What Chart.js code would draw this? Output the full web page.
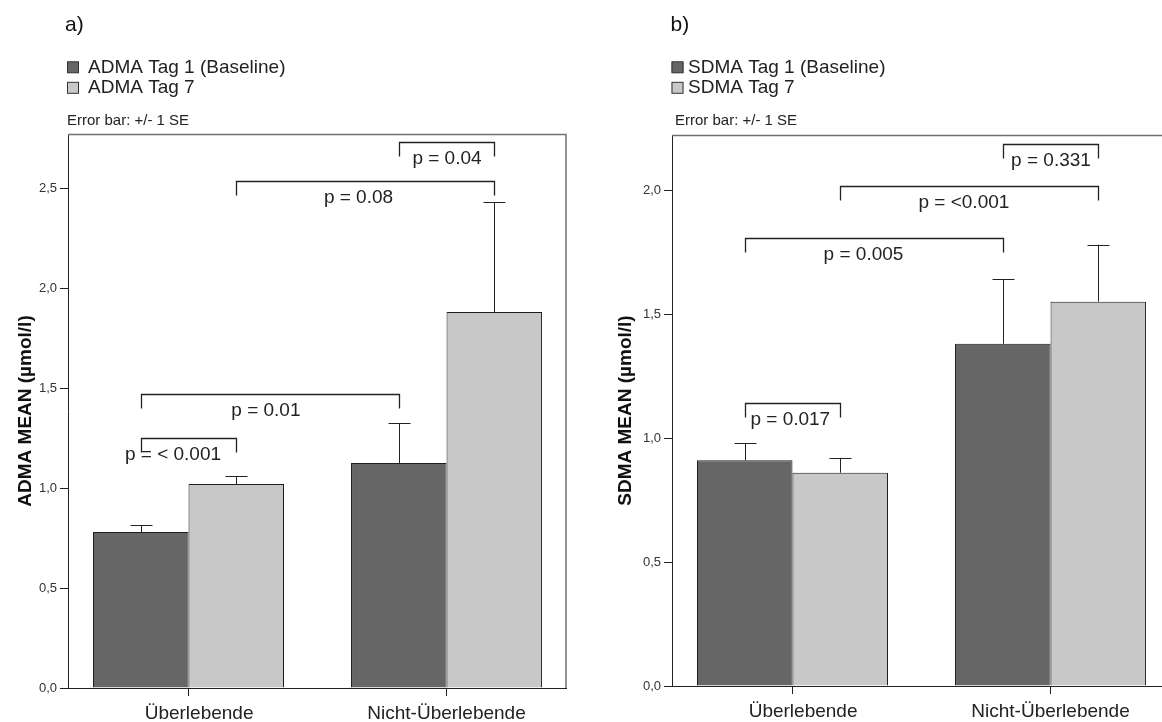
<!DOCTYPE html>
<html><head><meta charset="utf-8">
<script src="https://cdn.jsdelivr.net/npm/chart.js@4/dist/chart.umd.min.js"></script>
<style>
html,body{margin:0;padding:0;background:#fff;overflow:hidden;width:1162px;height:722px;}
.wrap{position:absolute;top:0;width:580px;height:722px;}
#wa{left:0}
#wb{left:604px}
</style></head><body>
<div class="wrap" id="wa"><canvas id="ca" width="580" height="722"></canvas></div>
<div class="wrap" id="wb"><canvas id="cb" width="580" height="722"></canvas></div>
<script>
// ---- data ----
const categories = ['Überlebende', 'Nicht-Überlebende'];

const admaTag1 = [0.78, 1.125];
const admaTag1SE = [0.035, 0.20];
const admaTag7 = [1.02, 1.88];
const admaTag7SE = [0.04, 0.55];

const sdmaTag1 = [0.91, 1.38];
const sdmaTag1SE = [0.07, 0.26];
const sdmaTag7 = [0.86, 1.55];
const sdmaTag7SE = [0.06, 0.23];

const admaTicks = [0, 0.5, 1.0, 1.5, 2.0, 2.5];
const sdmaTicks = [0, 0.5, 1.0, 1.5, 2.0];

// p-value brackets: label, level (value units), from bar [dataset, category], to bar
const admaPLabels = ['p = 0.04', 'p = 0.08', 'p = 0.01', 'p = < 0.001'];
const admaPLevels = [2.73, 2.535, 1.47, 1.25];
const admaPFrom = [[0, 1], [1, 0], [0, 0], [0, 0]];
const admaPTo   = [[1, 1], [1, 1], [0, 1], [1, 0]];

const sdmaPLabels = ['p = 0.331', 'p = <0.001', 'p = 0.005', 'p = 0.017'];
const sdmaPLevels = [2.184, 2.017, 1.808, 1.142];
const sdmaPFrom = [[0, 1], [1, 0], [0, 0], [0, 0]];
const sdmaPTo   = [[1, 1], [1, 1], [0, 1], [1, 0]];

// ---- drawing ----
const FONT = '"Liberation Sans", Arial, Helvetica, sans-serif';
Chart.defaults.font.family = FONT;
const DARK = '#666666', LIGHT = '#c8c8c8';

const extrasPlugin = {
  id: 'extras',
  afterDatasetsDraw(chart, args, o) {
    const ctx = chart.ctx;
    const ys = chart.scales.y;
    const ca = chart.chartArea;
    ctx.save();
    // frame top/right
    ctx.strokeStyle = '#707070';
    ctx.lineWidth = 1.5;
    ctx.beginPath();
    ctx.moveTo(ca.left, ca.top + 0.5);
    ctx.lineTo(ca.right, ca.top + 0.5);
    ctx.lineTo(ca.right, ca.bottom);
    ctx.stroke();
    // error bars
    ctx.strokeStyle = '#222';
    ctx.lineWidth = 1;
    chart.data.datasets.forEach((ds, d) => {
      const meta = chart.getDatasetMeta(d);
      meta.data.forEach((el, i) => {
        const v = ds.data[i].y, se = ds.se[i];
        const yT = ys.getPixelForValue(v + se);
        const x = Math.round(el.x) + 0.5;
        ctx.beginPath();
        ctx.moveTo(x, el.y);
        ctx.lineTo(x, yT);
        ctx.moveTo(x - 11, Math.round(yT) + 0.5);
        ctx.lineTo(x + 11, Math.round(yT) + 0.5);
        ctx.stroke();
      });
    });
    // brackets
    ctx.lineWidth = 1.3;
    ctx.font = '19px ' + FONT;
    ctx.fillStyle = '#222';
    ctx.textAlign = 'center';
    ctx.textBaseline = 'middle';
    o.labels.forEach((lab, k) => {
      const a = chart.getDatasetMeta(o.from[k][0]).data[o.from[k][1]];
      const b = chart.getDatasetMeta(o.to[k][0]).data[o.to[k][1]];
      const y = Math.round(ys.getPixelForValue(o.levels[k])) + 0.5;
      const x1 = Math.round(a.x) + 0.5, x2 = Math.round(b.x) + 0.5;
      ctx.beginPath();
      ctx.moveTo(x1, y + 14);
      ctx.lineTo(x1, y);
      ctx.lineTo(x2, y);
      ctx.lineTo(x2, y + 14);
      ctx.stroke();
      ctx.fillText(lab, (x1 + x2) / 2 + o.dx[k], y + 16);
    });
    // panel letter
    ctx.textAlign = 'left';
    ctx.font = '21px ' + FONT;
    ctx.fillStyle = '#111';
    ctx.fillText(o.letter, o.letterX, 25.5);
    // legend
    ctx.font = '19px ' + FONT;
    chart.data.datasets.forEach((ds, d) => {
      const yc = 67.3 + d * 20.5;
      ctx.fillStyle = ds.backgroundColor;
      ctx.fillRect(o.boxX, yc - 5.5, 12, 11);
      ctx.strokeStyle = '#333';
      ctx.lineWidth = 1;
      ctx.strokeRect(o.boxX + 0.5, yc - 5.5, 11, 11);
      ctx.fillStyle = '#222';
      ctx.fillText(ds.label, o.textX, yc);
    });
    ctx.font = '15px ' + FONT;
    ctx.fillText('Error bar: +/- 1 SE', o.errX, 121);
    ctx.restore();
  }
};

function makeChart(id, cfg) {
  const ds = (label, vals, se, color) => ({
    label, se,
    data: categories.map((c, i) => ({ x: i + 1, y: vals[i] })),
    backgroundColor: color,
    borderColor: '#1e1e1e',
    borderWidth: 1,
    categoryPercentage: 0.7403,
    barPercentage: 1
  });
  return new Chart(document.getElementById(id), {
    type: 'bar',
    data: {
      datasets: [
        ds(cfg.names[0], cfg.v1, cfg.se1, DARK),
        ds(cfg.names[1], cfg.v2, cfg.se2, LIGHT)
      ]
    },
    options: {
      responsive: false,
      animation: false,
      layout: { padding: { top: cfg.top, right: 14, left: 0, bottom: 0 } },
      plugins: {
        legend: { display: false },
        tooltip: { enabled: false },
        extras: cfg.extras
      },
      scales: {
        x: {
          type: 'linear',
          offset: false,
          min: 0.533, max: 2.463,
          afterBuildTicks: s => { s.ticks = categories.map((c, i) => ({ value: i + 1 })); },
          afterFit: s => { s.height = cfg.xh; },
          ticks: {
            autoSkip: false, maxRotation: 0, padding: cfg.xpad,
            color: '#222', font: { size: 19 },
            callback: (v, i) => (i === 0 ? '    ' : '') + categories[i]
          },
          grid: { offset: false, drawOnChartArea: false, drawTicks: true, tickLength: 8, color: '#222' },
          border: { color: '#222', width: 1 }
        },
        y: {
          min: 0, max: cfg.ymax,
          afterBuildTicks: s => { s.ticks = cfg.ticks.map(v => ({ value: v })); },
          afterFit: s => { s.width = 68; },
          ticks: {
            padding: 3, color: '#333', font: { size: 13 },
            callback: v => v.toFixed(1).replace('.', ',')
          },
          grid: { drawOnChartArea: false, drawTicks: true, tickLength: 8, color: '#222' },
          border: { color: '#222', width: 1 },
          title: {
            display: true, text: cfg.ytitle, color: '#111',
            font: { size: 19, weight: 'bold' },
            padding: { top: cfg.titlePad, bottom: 0 }
          }
        }
      }
    },
    plugins: [extrasPlugin]
  });
}

makeChart('ca', {
  names: ['ADMA Tag 1 (Baseline)', 'ADMA Tag 7'],
  v1: admaTag1, se1: admaTag1SE, v2: admaTag7, se2: admaTag7SE,
  top: 134, xh: 34, xpad: 6, ymax: 2.77, ticks: admaTicks,
  ytitle: 'ADMA MEAN (µmol/l)', titlePad: 14.6,
  extras: {
    labels: admaPLabels, levels: admaPLevels, from: admaPFrom, to: admaPTo,
    dx: [0, -7, -4.6, -16],
    letter: 'a)', letterX: 65, boxX: 67, textX: 88, errX: 67
  }
});

makeChart('cb', {
  names: ['SDMA Tag 1 (Baseline)', 'SDMA Tag 7'],
  v1: sdmaTag1, se1: sdmaTag1SE, v2: sdmaTag7, se2: sdmaTag7SE,
  top: 135, xh: 36, xpad: 6, ymax: 2.222, ticks: sdmaTicks,
  ytitle: 'SDMA MEAN (µmol/l)', titlePad: 10.3,
  extras: {
    labels: sdmaPLabels, levels: sdmaPLevels, from: sdmaPFrom, to: sdmaPTo,
    dx: [0, -5.6, -11, -2.7],
    letter: 'b)', letterX: 66.5, boxX: 67.5, textX: 84, errX: 71
  }
});
</script>
</body></html>
